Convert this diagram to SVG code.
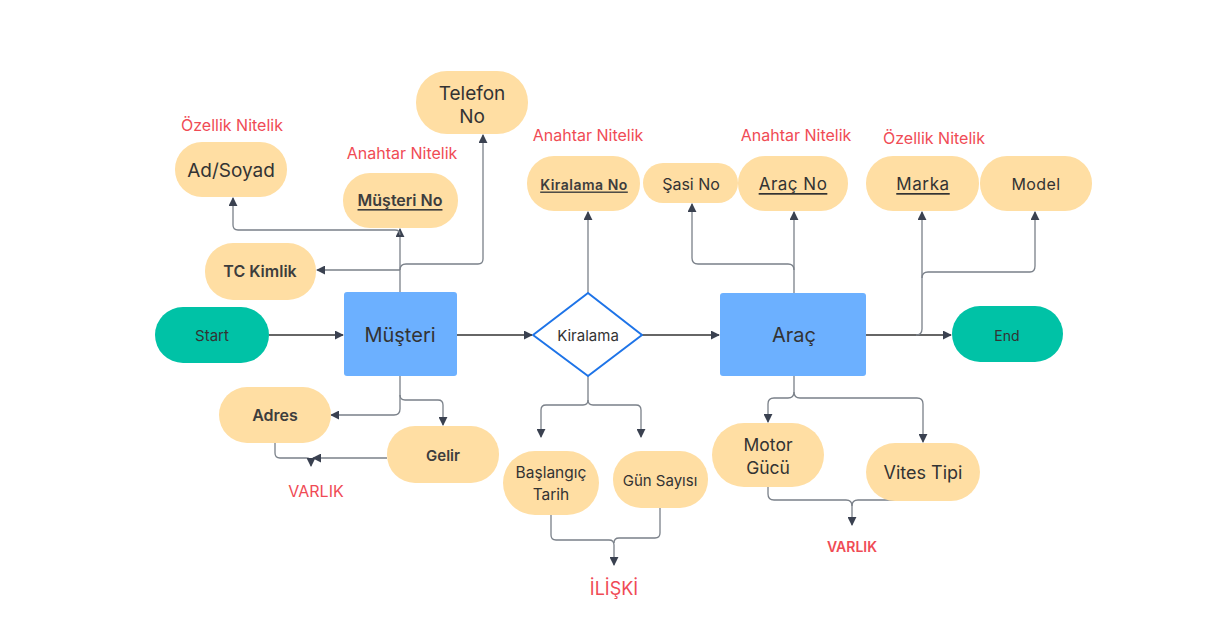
<svg xmlns="http://www.w3.org/2000/svg" width="1213" height="638" viewBox="0 0 1213 638">
<style>
.pill{fill:#FFDEA3}
.ent{fill:#6CB0FF}
.term{fill:#00C2A6}
text{font-family:Inter,"Noto Sans","Liberation Sans",sans-serif;text-anchor:middle;dominant-baseline:central;fill:#333}
.b{font-weight:600;fill:#3d3d3d}
.red{fill:#F04B55}
.c{fill:none;stroke:#7a8089;stroke-width:1.3}
.k{fill:none;stroke:#333;stroke-width:1.3}
</style>
<defs>
<marker id="a" viewBox="0 0 10 10" refX="9" refY="5" markerWidth="9" markerHeight="9" markerUnits="userSpaceOnUse" orient="auto"><path d="M0,0 L10,5 L0,10 z" fill="#3a4150"/></marker>
</defs>
<rect width="1213" height="638" fill="#fff"/>

<g id="connectors">
<path class="c" d="M400,292 V229" marker-end="url(#a)"/>
<path class="c" d="M400,270 H317" marker-end="url(#a)"/>
<path class="c" d="M400,235 Q400,230 395,230 H238 Q233,230 233,225 V198" marker-end="url(#a)"/>
<path class="c" d="M400,270 Q400,264 406,264 H478 Q483,264 483,259 V135" marker-end="url(#a)"/>
<path class="k" d="M269,335 H343" marker-end="url(#a)"/>
<path class="k" d="M457,335 H532" marker-end="url(#a)"/>
<path class="k" d="M642,335 H719" marker-end="url(#a)"/>
<path class="k" d="M866,335 H951" marker-end="url(#a)"/>
<path class="c" d="M400,376 V409 Q400,415 394,415 H331" marker-end="url(#a)"/>
<path class="c" d="M400,395 Q400,400 405,400 H438 Q443,400 443,405 V425" marker-end="url(#a)"/>
<path class="c" d="M387,458 H313" marker-end="url(#a)"/>
<path class="c" d="M275,443 V453 Q275,458 280,458 H306 Q311,458 311,462 V466" marker-end="url(#a)"/>
<path class="c" d="M588,293 V212" marker-end="url(#a)"/>
<path class="c" d="M588,376 V400 Q588,405 583,405 H546 Q541,405 541,410 V437" marker-end="url(#a)"/>
<path class="c" d="M588,400 Q588,405 593,405 H636 Q641,405 641,410 V437" marker-end="url(#a)"/>
<path class="c" d="M551,515 V535 Q551,540 556,540 H609 Q614,540 614,545 V565" marker-end="url(#a)"/>
<path class="c" d="M660,508 V533 Q660,538 655,538 H619 Q614,538 614,543"/>
<path class="c" d="M794,293 V212" marker-end="url(#a)"/>
<path class="c" d="M794,270 Q794,264 788,264 H698 Q692,264 692,258 V204" marker-end="url(#a)"/>
<path class="c" d="M916,335 Q922,335 922,329 V212" marker-end="url(#a)"/>
<path class="c" d="M922,278 Q922,272 928,272 H1030 Q1035,272 1035,266 V212" marker-end="url(#a)"/>
<path class="c" d="M794,376 V392 Q794,398 788,398 H774 Q768,398 768,404 V422" marker-end="url(#a)"/>
<path class="c" d="M794,392 Q794,398 800,398 H917 Q923,398 923,404 V442" marker-end="url(#a)"/>
<path class="c" d="M768,487 V494 Q768,500 774,500 H846 Q852,500 852,506 V525" marker-end="url(#a)"/>
<path class="c" d="M925,500 H858 Q852,500 852,506"/>
</g>

<g id="start"><rect class="term" x="155" y="307" width="114" height="56" rx="28"/><text x="212" y="335" font-size="15">Start</text></g>
<g id="musteri"><rect class="ent" x="344" y="292" width="113" height="84" rx="3"/><text x="400" y="335" font-size="20">Müşteri</text></g>
<g id="telefon"><rect class="pill" x="416" y="71" width="112" height="63" rx="31"/><text x="472" y="93" font-size="19">Telefon</text><text x="472" y="116" font-size="19">No</text></g>
<g id="adsoyad"><rect class="pill" x="175" y="142" width="112" height="55" rx="27"/><text x="231" y="170" font-size="19">Ad/Soyad</text></g>
<g id="musterino"><rect class="pill" x="343" y="173" width="115" height="55" rx="27"/><text class="b" x="400" y="200" font-size="16" text-decoration="underline">Müşteri No</text></g>
<g id="tckimlik"><rect class="pill" x="205" y="243" width="111" height="57" rx="28"/><text class="b" x="260" y="271" font-size="16">TC Kimlik</text></g>
<g id="adres"><rect class="pill" x="219" y="387" width="112" height="56" rx="28"/><text class="b" x="275" y="415" font-size="16">Adres</text></g>
<g id="gelir"><rect class="pill" x="387" y="426" width="112" height="57" rx="28"/><text class="b" x="443" y="455" font-size="15">Gelir</text></g>

<g id="kiralama"><path d="M588,293 L642,335 L588,376 L533,335 Z" fill="#fff" stroke="#1E74E8" stroke-width="2" stroke-linejoin="round"/><text x="588" y="335" font-size="15">Kiralama</text></g>
<g id="kiralamano"><rect class="pill" x="527" y="156" width="113" height="55" rx="27"/><text class="b" x="584" y="184" font-size="14" letter-spacing="0.5" text-decoration="underline">Kiralama No</text></g>
<g id="baslangic"><rect class="pill" x="503" y="451" width="96" height="64" rx="32"/><text x="551" y="472" font-size="15.5">Başlangıç</text><text x="551" y="494" font-size="15.5">Tarih</text></g>
<g id="gunsayisi"><rect class="pill" x="613" y="451" width="95" height="57" rx="28"/><text x="660" y="480" font-size="15">Gün Sayısı</text></g>

<g id="arac"><rect class="ent" x="720" y="293" width="146" height="83" rx="3"/><text x="794" y="335" font-size="20">Araç</text></g>
<g id="sasino"><rect class="pill" x="643" y="163" width="95" height="40" rx="20"/><text x="691" y="184" font-size="16">Şasi No</text></g>
<g id="aracno"><rect class="pill" x="738" y="156" width="110" height="55" rx="27"/><text x="793" y="184" font-size="17" letter-spacing="0.5" text-decoration="underline">Araç No</text></g>
<g id="marka"><rect class="pill" x="866" y="156" width="113" height="55" rx="27"/><text x="923" y="184" font-size="17" letter-spacing="0.6" text-decoration="underline">Marka</text></g>
<g id="model"><rect class="pill" x="980" y="156" width="112" height="55" rx="27"/><text x="1036" y="184" font-size="16" letter-spacing="0.4">Model</text></g>
<g id="end"><rect class="term" x="952" y="306" width="111" height="56" rx="28"/><text x="1007" y="335" font-size="14">End</text></g>
<g id="motor"><rect class="pill" x="712" y="423" width="112" height="64" rx="32"/><text x="768" y="444" font-size="17.5">Motor</text><text x="768" y="467" font-size="17.5">Gücü</text></g>
<g id="vites"><rect class="pill" x="866" y="443" width="114" height="58" rx="29"/><text x="923" y="472" font-size="18">Vites Tipi</text></g>

<g id="labels">
<text class="red" x="232" y="125" font-size="16">Özellik Nitelik</text>
<text class="red" x="402" y="153" font-size="16">Anahtar Nitelik</text>
<text class="red" x="588" y="135" font-size="16">Anahtar Nitelik</text>
<text class="red" x="796" y="135" font-size="16">Anahtar Nitelik</text>
<text class="red" x="934" y="138" font-size="16">Özellik Nitelik</text>
<text class="red" x="316" y="491" font-size="16">VARLIK</text>
<text class="red" x="852" y="546" font-size="14" font-weight="600">VARLIK</text>
<text class="red" x="614" y="588" font-size="18">İLİŞKİ</text>
</g>
</svg>
